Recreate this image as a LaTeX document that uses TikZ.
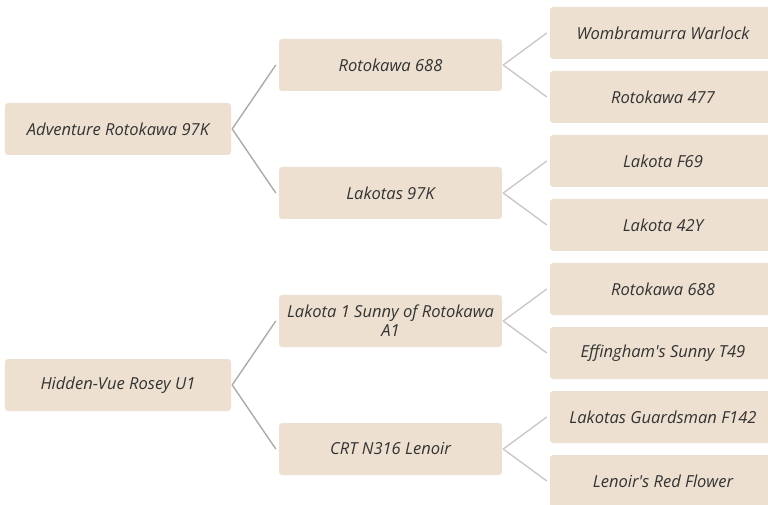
\documentclass[tikz,border=0pt]{standalone}
\usepackage{fontspec}
\newfontfamily\boxfont{Open Sans}
\begin{document}
\begin{tikzpicture}[x=1bp,y=-1bp,
  box/.style={rectangle, rounded corners=3bp, fill=boxfill, draw=none,
    minimum height=52bp, inner sep=0pt, align=center,
    font=\boxfont\fontsize{16.6}{19}\selectfont\itshape, text=textcol},
  lone/.style={box, minimum width=226bp},
  ltwo/.style={box, minimum width=223bp},
  lthree/.style={box, minimum width=226bp},
  linkA/.style={draw=lineA, line width=1.4bp},
  linkB/.style={draw=lineB, line width=1.4bp}]
\definecolor{boxfill}{HTML}{EDE0D0}
\definecolor{textcol}{HTML}{333333}
\definecolor{lineA}{HTML}{ABABAB}
\definecolor{lineB}{HTML}{C9C9C9}
\useasboundingbox (0,0) rectangle (768,505);
% level 1
\node[lone] (a) at (118,129) {Adventure Rotokawa 97K};
\node[lone] (b) at (118,385) {Hidden-Vue Rosey U1};
% level 2
\node[ltwo] (a1) at (390.5,65) {Rotokawa 688};
\node[ltwo] (a2) at (390.5,193) {Lakotas 97K};
\node[ltwo] (b1) at (390.5,321) {Lakota 1 Sunny of Rotokawa\\A1};
\node[ltwo] (b2) at (390.5,449) {CRT N316 Lenoir};
% level 3
\node[lthree] (a11) at (663,33) {Wombramurra Warlock};
\node[lthree] (a12) at (663,97) {Rotokawa 477};
\node[lthree] (a21) at (663,161) {Lakota F69};
\node[lthree] (a22) at (663,225) {Lakota 42Y};
\node[lthree] (b11) at (663,289) {Rotokawa 688};
\node[lthree] (b12) at (663,353) {Effingham's Sunny T49};
\node[lthree] (b21) at (663,417) {Lakotas Guardsman F142};
\node[lthree] (b22) at (663,481) {Lenoir's Red Flower};
% connectors
\foreach \p/\c in {a/a1,a/a2,b/b1,b/b2}{
  \draw[linkA] ([xshift=1bp]\p.east) -- ([xshift=-3bp]\c.west);
}
\foreach \p/\c in {a1/a11,a1/a12,a2/a21,a2/a22,b1/b11,b1/b12,b2/b21,b2/b22}{
  \draw[linkB] ([xshift=1bp]\p.east) -- ([xshift=-3bp]\c.west);
}
\end{tikzpicture}
\end{document}
